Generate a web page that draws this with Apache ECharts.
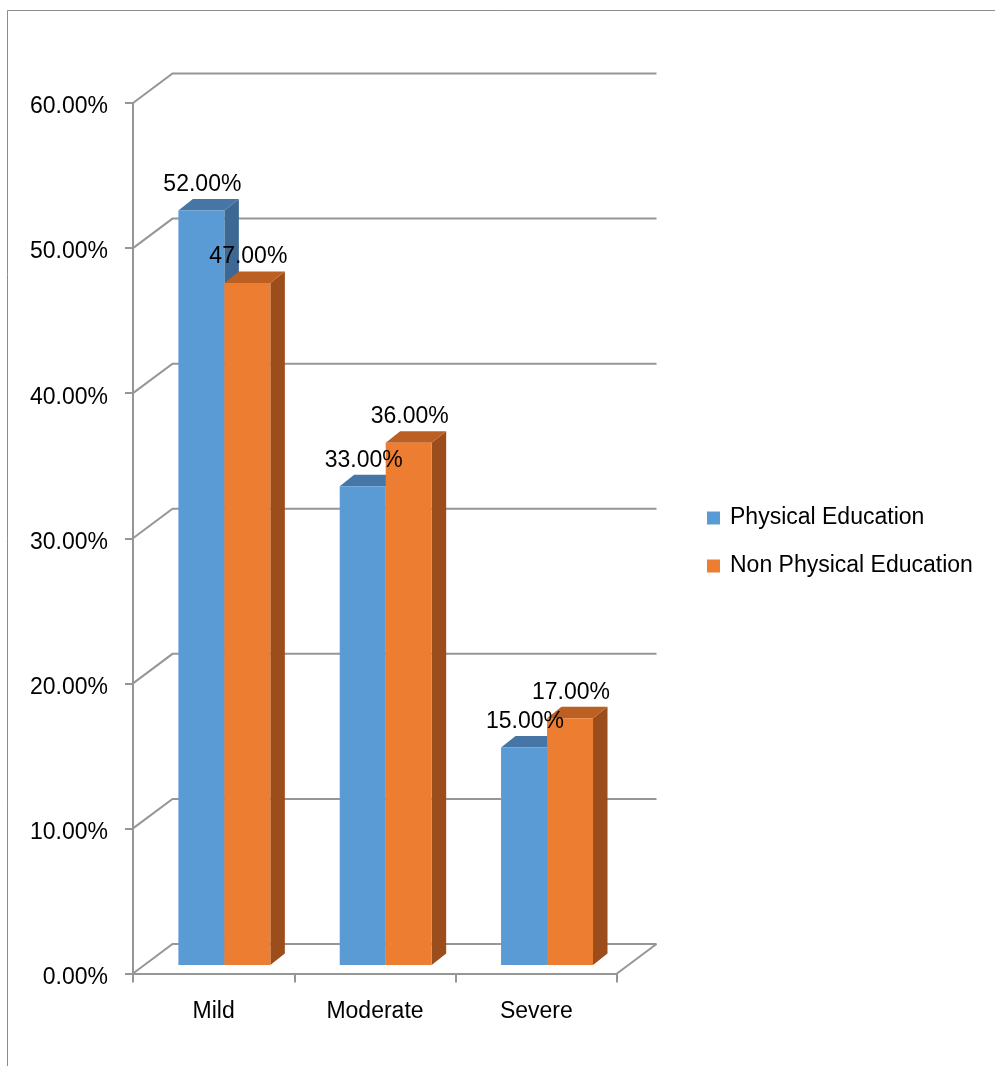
<!DOCTYPE html>
<html>
<head>
<meta charset="utf-8">
<script src="https://cdn.jsdelivr.net/npm/echarts@6/dist/echarts.min.js"></script>
<style>
  html, body { margin: 0; padding: 0; background: #fff; }
  #chart { width: 995px; height: 1066px; }
</style>
</head>
<body>
<div id="chart"></div>
<script>
// ---- data ----
const categories = ['Mild', 'Moderate', 'Severe'];
const seriesNames = ['Physical Education', 'Non Physical Education'];
const physicalEducation = [0.52, 0.33, 0.15];
const nonPhysicalEducation = [0.47, 0.36, 0.17];
const yMin = 0, yMax = 0.6, yStep = 0.1;

// ---- look ----
const FONT = 'Liberation Sans';
const FONT_SIZE = 23;
const GRID_COLOR = '#969696';
// offset of the back wall from the front plane (px)
const WALL_DX = 39.5, WALL_DY = -29.5;
// offset of the bars' front faces from the front plane, and bar depth
const BAR_OFF_DX = 10.7, BAR_OFF_DY = -8.5;
const BAR_DX = 14.5, BAR_DY = -11.5;
const BAR_FRAC = 0.285; // bar width as a share of the category band

const faces = [
  { front: '#5B9BD5', top: '#4676A6', side: '#3D6893' },
  { front: '#ED7D31', top: '#BC5F22', side: '#9C4D1C' }
];

const pct = v => (v * 100).toFixed(2) + '%';

// tick values of the value axis, used for the back-wall grid lines
const wallTicks = [];
for (let i = 0; i <= Math.round((yMax - yMin) / yStep); i++) {
  wallTicks.push([0, +(yMin + i * yStep).toFixed(10)]);
}

function renderWall(params, api) {
  const cs = params.coordSys;
  const v = api.value(1);
  const y = api.coord([0, v])[1];
  const x0 = cs.x, x1 = cs.x + cs.width;
  const lineStyle = { stroke: GRID_COLOR, lineWidth: 2, fill: null };
  const children = [{
    type: 'polyline',
    shape: { points: [[x0, y], [x0 + WALL_DX, y + WALL_DY], [x1 + WALL_DX, y + WALL_DY]] },
    style: lineStyle,
    silent: true
  }];
  if (v === yMin) {
    children.push({
      type: 'line',
      shape: { x1: x1, y1: y, x2: x1 + WALL_DX, y2: y + WALL_DY },
      style: lineStyle,
      silent: true
    });
  }
  return { type: 'group', children: children };
}

function barRenderer(k) {
  const f = faces[k];
  return function (params, api) {
    const c = api.value(0), v = api.value(1);
    const topPt = api.coord([c, v]);
    const basePt = api.coord([c, yMin]);
    const w = api.size([1, 0])[0] * BAR_FRAC;
    const cx = topPt[0] + BAR_OFF_DX;
    const xl = k === 0 ? cx - w : cx;
    const xr = xl + w;
    const yt = topPt[1] + BAR_OFF_DY;
    const yb = basePt[1] + BAR_OFF_DY;
    return {
      type: 'group',
      children: [
        {
          type: 'polygon',
          shape: { points: [[xr, yt], [xr + BAR_DX, yt + BAR_DY], [xr + BAR_DX, yb + BAR_DY], [xr, yb]] },
          style: { fill: f.side }
        },
        {
          type: 'polygon',
          shape: { points: [[xl, yt], [xr, yt], [xr + BAR_DX, yt + BAR_DY], [xl + BAR_DX, yt + BAR_DY]] },
          style: { fill: f.top }
        },
        {
          type: 'rect',
          shape: { x: xl, y: yt, width: w, height: yb - yt },
          style: { fill: f.front }
        },
        {
          type: 'text',
          z2: 100,
          style: {
            text: pct(v),
            x: (xl + xr) / 2 + 1,
            y: yt - 26,
            align: 'center',
            verticalAlign: 'middle',
            fill: '#000',
            font: FONT_SIZE + 'px "' + FONT + '"'
          }
        }
      ]
    };
  };
}

const chart = echarts.init(document.getElementById('chart'), null, { renderer: 'canvas' });

chart.setOption({
  animation: false,
  backgroundColor: '#fff',
  textStyle: { fontFamily: FONT },
  grid: { left: 133, top: 103, width: 484, height: 870.5, containLabel: false },
  legend: {
    data: seriesNames,
    orient: 'vertical',
    left: 707,
    top: 505,
    padding: 0,
    icon: 'rect',
    itemWidth: 13,
    itemHeight: 13,
    itemGap: 22,
    textStyle: { fontSize: FONT_SIZE, fontFamily: FONT, color: '#000', padding: [0, 0, 0, 5], lineHeight: 26 }
  },
  xAxis: {
    type: 'category',
    data: categories,
    boundaryGap: true,
    axisLine: { show: true, lineStyle: { color: GRID_COLOR, width: 2 } },
    axisTick: { show: true, length: 9, lineStyle: { color: GRID_COLOR, width: 2 } },
    axisLabel: { margin: 26.5, fontSize: FONT_SIZE, fontFamily: FONT, color: '#000' },
    splitLine: { show: false }
  },
  yAxis: {
    type: 'value',
    min: yMin,
    max: yMax,
    interval: yStep,
    axisLine: { show: true, lineStyle: { color: GRID_COLOR, width: 2 } },
    axisTick: { show: true, length: 8, lineStyle: { color: GRID_COLOR, width: 2 } },
    axisLabel: {
      margin: 25, fontSize: FONT_SIZE, fontFamily: FONT, color: '#000',
      verticalAlign: 'top', lineHeight: 8, formatter: pct
    },
    splitLine: { show: false }
  },
  graphic: [
    { type: 'line', shape: { x1: 7.5, y1: 10.5, x2: 995, y2: 10.5 }, style: { stroke: '#8c8c8c', lineWidth: 1 } },
    { type: 'line', shape: { x1: 7.5, y1: 10.5, x2: 7.5, y2: 1066 }, style: { stroke: '#8c8c8c', lineWidth: 1 } }
  ],
  series: [
    {
      type: 'custom',
      name: 'wall',
      renderItem: renderWall,
      data: wallTicks,
      clip: false,
      silent: true,
      z: 1
    },
    {
      type: 'custom',
      name: seriesNames[0],
      renderItem: barRenderer(0),
      itemStyle: { color: faces[0].front },
      data: physicalEducation.map((v, i) => [i, v]),
      clip: false,
      z: 2
    },
    {
      type: 'custom',
      name: seriesNames[1],
      renderItem: barRenderer(1),
      itemStyle: { color: faces[1].front },
      data: nonPhysicalEducation.map((v, i) => [i, v]),
      clip: false,
      z: 2
    }
  ]
});
</script>
</body>
</html>
